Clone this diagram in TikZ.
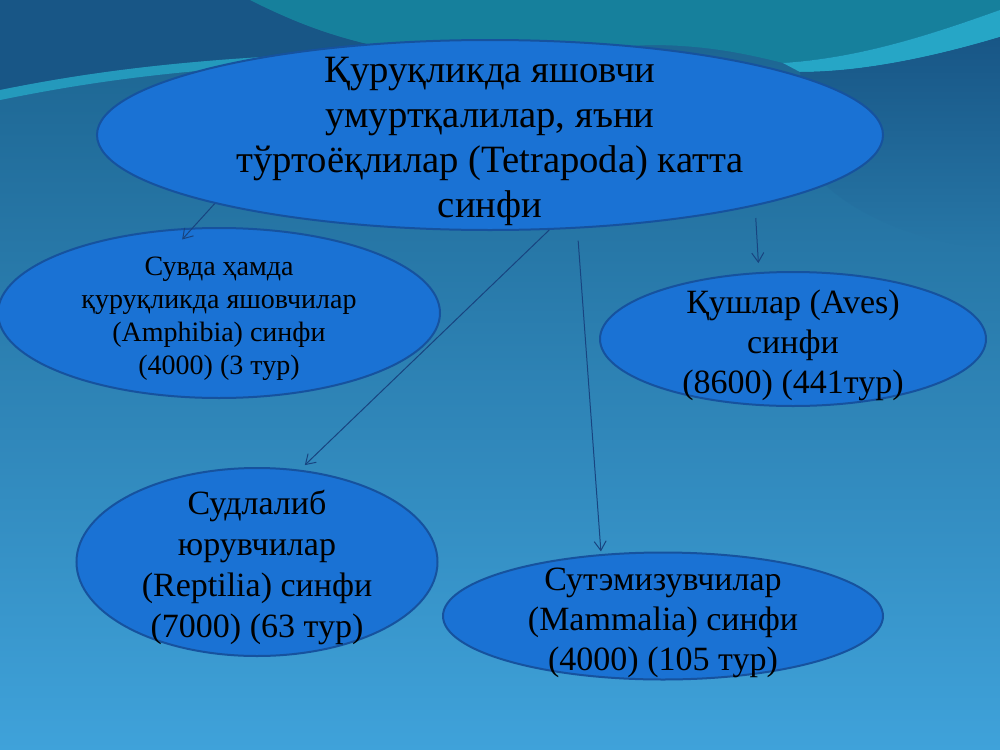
\documentclass[tikz,border=0pt]{standalone}
\usepackage{fontspec}
\setmainfont{Liberation Serif}
\usetikzlibrary{shapes.geometric,arrows.meta}

\definecolor{bgtop}{RGB}{27,98,142}
\definecolor{bgbot}{RGB}{63,162,218}
\definecolor{wavedark}{RGB}{24,86,134}
\definecolor{waveteal}{RGB}{22,128,156}
\definecolor{wavecyan}{RGB}{38,166,198}
\definecolor{ellfill}{RGB}{26,114,212}
\definecolor{elldraw}{RGB}{22,82,158}
\definecolor{arrcol}{RGB}{24,68,128}

\tikzset{every picture/.style={line width=0.75pt}}
\tikzset{
  sinfell/.style={ellipse, draw=elldraw, fill=ellfill, line width=1.5pt, inner sep=0pt},
  sinftxt/.style={align=center, text=black, inner sep=0pt},
  linkarr/.style={draw=arrcol, line width=0.75pt, -{Straight Barb[length=7pt,width=9pt]}}
}

\begin{document}
\begin{tikzpicture}[x=0.75pt,y=0.75pt,yscale=-1,xscale=1]
\useasboundingbox (0,0) rectangle (1000,750);

%Background
\shade [top color=bgtop, bottom color=bgbot] (0,0) rectangle (1000,750);
%Waves at the top
\fill [wavedark] (0,0) -- (250,0) .. controls (300,25) and (350,45) .. (430,55) -- (300,55) .. controls (150,62) and (60,78) .. (0,90) -- cycle ;
\fill [waveteal] (250,0) -- (1000,0) -- (1000,10) .. controls (930,35) and (860,58) .. (783,63) .. controls (740,52) and (700,45) .. (650,45) -- (430,55) .. controls (350,45) and (300,25) .. (250,0) -- cycle ;
\fill [wavecyan] (783,63) .. controls (860,58) and (930,35) .. (1000,10) -- (1000,37) .. controls (930,58) and (860,72) .. (800,72) -- cycle ;
\fill [wavecyan, opacity=0.8] (0,90) .. controls (60,78) and (150,62) .. (300,55) -- (300,64) .. controls (150,71) and (60,88) .. (0,100) -- cycle ;
\shade [top color=wavedark, bottom color=bgtop!67!bgbot] (800,72) .. controls (860,72) and (930,58) .. (1000,37) -- (1000,250) .. controls (930,245) and (860,220) .. (820,180) -- cycle ;

%Shape: Ellipse
\node [sinfell, minimum width=589.5pt, minimum height=142.5pt,
  label={[sinftxt, yshift=-5pt, font=\fontsize{29}{33.75}\selectfont]center:{Қуруқликда яшовчи\\умуртқалилар, яъни\\тўртоёқлилар (Tetrapoda) катта\\синфи}}] (tetra) at (490,135) {};
%Shape: Ellipse
\node [sinfell, minimum width=331.5pt, minimum height=127.5pt,
  label={[sinftxt, yshift=-4.5pt, font=\fontsize{21}{24.75}\selectfont]center:{Сувда ҳамда\\қуруқликда яшовчилар\\(Amphibia) синфи\\(4000) (3 тур)}}] (amph) at (219,313) {};
%Shape: Ellipse
\node [sinfell, minimum width=289.5pt, minimum height=100.5pt,
  label={[sinftxt, yshift=-5pt, font=\fontsize{25.5}{30}\selectfont]center:{Қушлар (Aves)\\синфи\\(8600) (441тур)}}] (aves) at (793,339) {};
%Shape: Ellipse
\node [sinfell, minimum width=270.75pt, minimum height=141pt,
  label={[sinftxt, yshift=-4pt, font=\fontsize{25.5}{30.75}\selectfont]center:{Судлалиб\\юрувчилар\\(Reptilia) синфи\\(7000) (63 тур)}}] (rept) at (257,562) {};
%Shape: Ellipse
\node [sinfell, minimum width=330pt, minimum height=95.25pt,
  label={[sinftxt, yshift=-5.5pt, font=\fontsize{25.5}{30}\selectfont]center:{Сутэмизувчилар\\(Mammalia) синфи\\(4000) (105 тур)}}] (mamm) at (663,616) {};

%Straight Lines
\draw [linkarr, shorten >=-12pt] (tetra.194) -- (amph.107) ;
%Straight Lines
\draw [linkarr, shorten <=9pt, shorten >=6.75pt] (tetra.345) -- (aves.117) ;
%Straight Lines
\draw [linkarr, shorten >=5pt] (tetra.302) -- (rept.65) ;
%Straight Lines
\draw [linkarr, shorten <=9pt, shorten >=2pt] (tetra.313) -- (mamm.135) ;

\end{tikzpicture}
\end{document}
